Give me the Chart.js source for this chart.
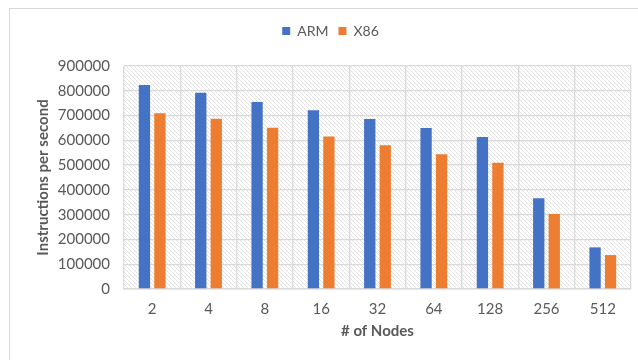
<!DOCTYPE html>
<html>
<head>
<meta charset="utf-8">
<script src="https://cdn.jsdelivr.net/npm/chart.js@4/dist/chart.umd.min.js"></script>
<style>
    html, body { margin: 0; padding: 0; background: #fff; }
    #wrap { width: 638px; height: 360px; }
</style>
</head>
<body>
<div id="wrap"><canvas id="chart"></canvas></div>
<script>
const nodes = ["2", "4", "8", "16", "32", "64", "128", "256", "512"]
const armValues = [823000, 792000, 755000, 721000, 686000, 650000, 613000, 366000, 168000]
const x86Values = [709000, 687000, 651000, 615000, 580000, 544000, 510000, 303000, 137000]

const textColor = "#595959"
const gridColor = "#d9d9d9"

// diagonal hatch used as the plot area background
const makeHatch = () => {
    const c = document.createElement("canvas")
    c.width = 4
    c.height = 4
    const g = c.getContext("2d")
    g.fillStyle = "#ffffff"
    g.fillRect(0, 0, 4, 4)
    g.strokeStyle = "#e2e2e2"
    g.lineWidth = 1
    g.beginPath()
    g.moveTo(-1, -1)
    g.lineTo(5, 5)
    g.moveTo(-1, 3)
    g.lineTo(1, 5)
    g.moveTo(3, -1)
    g.lineTo(5, 1)
    g.stroke()
    return c
}

const background = {
    id: "background",
    beforeDraw: (chart) => {
        const { ctx, chartArea } = chart
        ctx.save()
        ctx.fillStyle = "#ffffff"
        ctx.fillRect(0, 0, chart.width, chart.height)
        ctx.strokeStyle = gridColor
        ctx.lineWidth = 1
        ctx.strokeRect(9.5, 8.5, chart.width, chart.height)
        ctx.fillStyle = ctx.createPattern(makeHatch(), "repeat")
        ctx.fillRect(chartArea.left, chartArea.top, chartArea.right - chartArea.left, chartArea.bottom - chartArea.top)
        ctx.restore()
    },
}

const legendSpace = {
    id: "legendSpace",
    beforeInit: (chart) => {
        const fit = chart.legend.fit
        chart.legend.fit = function () {
            fit.bind(chart.legend)()
            this.height = 52
        }
    },
}

new Chart(document.getElementById("chart"), {
    type: "bar",
    data: {
        labels: nodes,
        datasets: [
            {
                label: "ARM",
                data: armValues,
                backgroundColor: "#4472c4",
                barPercentage: 0.73,
                categoryPercentage: 0.55,
            },
            {
                label: "X86",
                data: x86Values,
                backgroundColor: "#ed7d31",
                barPercentage: 0.73,
                categoryPercentage: 0.55,
            },
        ],
    },
    plugins: [background, legendSpace],
    options: {
        responsive: true,
        maintainAspectRatio: false,
        animation: false,
        layout: {
            padding: { left: 30, right: 7, top: 14, bottom: 16 },
        },
        plugins: {
            tooltip: { enabled: false },
            legend: {
                position: "top",
                labels: {
                    color: textColor,
                    font: { family: "Lato", size: 14 },
                    boxWidth: 8,
                    boxHeight: 8,
                    padding: 10,
                },
            },
        },
        scales: {
            x: {
                grid: {
                    color: gridColor,
                    lineWidth: 1.3,
                    drawTicks: false,
                },
                border: { color: gridColor, width: 1.5 },
                ticks: {
                    color: textColor,
                    font: { family: "Lato", size: 15 },
                    padding: 11,
                },
                title: {
                    display: true,
                    text: "# of Nodes",
                    color: textColor,
                    font: { family: "Lato", size: 15, weight: "bold" },
                },
                afterFit: (scale) => {
                    scale.height = 55
                },
            },
            y: {
                min: 0,
                max: 900000,
                grid: {
                    color: gridColor,
                    lineWidth: 1.3,
                    drawTicks: false,
                },
                border: { display: false },
                ticks: {
                    stepSize: 100000,
                    color: textColor,
                    font: { family: "Lato", size: 15 },
                    padding: 14,
                    callback: (value) => `${value}`,
                },
                title: {
                    display: true,
                    text: "Instructions per second",
                    color: textColor,
                    font: { family: "Lato", size: 15, weight: "bold" },
                },
                afterFit: (scale) => {
                    scale.width = 94
                },
            },
        },
    },
})
</script>
</body>
</html>
